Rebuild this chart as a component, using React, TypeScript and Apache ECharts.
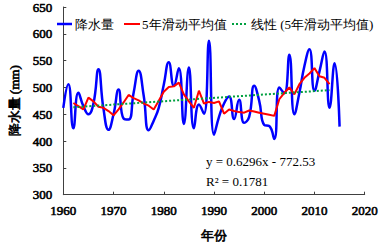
import React, { useEffect, useRef } from "react";
import * as echarts from "echarts";

const startYear = 1960;
const precipitation = [
  462, 506, 424, 490, 465, 450, 470, 534, 460, 421,
  450, 496, 442, 440, 490, 531, 485, 420, 438, 462,
  505, 547, 503, 536, 432, 537, 424, 468, 451, 587,
  412, 445, 470, 483, 441, 477, 434, 445, 503, 475,
  430, 428, 404, 500, 489, 561, 450, 490, 540, 571,
  494, 530, 567, 462, 545, 427,
];
const maStartYear = 1962;
const movingAvg = [
  471, 465, 459, 481, 474, 464, 462, 456, 448, 459,
  472, 486, 480, 476, 470, 466, 459, 475, 492, 501,
  502, 509, 487, 474, 462, 494, 470, 473, 471, 474,
  451, 459, 456, 454, 453, 457, 455, 453, 451, 449,
  447, 478, 490, 500, 487, 506, 518, 526, 536, 521,
  518, 506,
];
const trendYears = [1962, 2013];
const trendValues = [463, 495];
const legendNames = ["降水量", "5年滑动平均值", "线性 (5年滑动平均值)"];
const equationText = "y = 0.6296x - 772.53";
const r2Text = "R² = 0.1781";

const SERIF = "Liberation Serif";
const boldLike = {
  fontFamily: SERIF,
  fontSize: 13,
  fontWeight: "normal" as const,
  color: "#000",
  textBorderColor: "#000",
  textBorderWidth: 0.6,
};

export default function App() {
  const ref = useRef<HTMLDivElement>(null);
  useEffect(() => {
    document.body.style.margin = "0";
    const chart = echarts.init(ref.current!, null, { renderer: "svg" });
    const blue = precipitation.map((v, i) => [startYear + i, v]);
    const red = movingAvg.map((v, i) => [maStartYear + i, v]);
    const green = trendYears.map((y, i) => [y, trendValues[i]]);
    const legendY = 24;
    const legendItems = [
      { x0: 57, x1: 72, tx: 75, color: "#0000FF", width: 2.5, dash: null as any },
      { x0: 124, x1: 140, tx: 142, color: "#FF0000", width: 2, dash: null as any },
      { x0: 232, x1: 247, tx: 251, color: "#00A040", width: 2, dash: [2, 2] },
    ];
    const legendGraphics: any[] = [];
    legendItems.forEach((it, i) => {
      legendGraphics.push({
        type: "line",
        shape: { x1: it.x0, y1: legendY, x2: it.x1, y2: legendY },
        style: { stroke: it.color, lineWidth: it.width, lineDash: it.dash },
        z: 10,
      });
      legendGraphics.push({
        type: "text",
        x: it.tx,
        y: legendY,
        style: {
          text: legendNames[i],
          fontFamily: SERIF,
          fontSize: 13,
          fill: "#000",
          verticalAlign: "middle",
          align: "left",
        },
        z: 10,
      });
    });
    chart.setOption({
      animation: false,
      backgroundColor: "#ffffff",
      grid: { left: 51, right: 14, top: 7, bottom: 42, containLabel: false },
      xAxis: {
        type: "value",
        min: 1960,
        max: 2020,
        interval: 10,
        name: "年份",
        nameLocation: "middle",
        nameGap: 34,
        nameTextStyle: boldLike,
        axisLine: { lineStyle: { color: "#404040", width: 1 } },
        axisTick: { inside: true, length: 3, lineStyle: { color: "#404040" } },
        axisLabel: { ...boldLike, margin: 9, formatter: (v: number) => String(v) },
        splitLine: { show: false },
      },
      yAxis: {
        type: "value",
        min: 300,
        max: 650,
        interval: 50,
        name: "降水量 (mm)",
        nameLocation: "middle",
        nameGap: 41,
        nameRotate: 90,
        nameTextStyle: boldLike,
        axisLine: { show: true, lineStyle: { color: "#404040", width: 1 } },
        axisTick: { show: true, inside: true, length: 3, lineStyle: { color: "#404040" } },
        axisLabel: { ...boldLike, margin: 11, formatter: (v: number) => String(v) },
        splitLine: { show: false },
      },
      series: [
        {
          name: legendNames[0],
          type: "line",
          data: blue,
          smooth: 0.5,
          symbol: "none",
          lineStyle: { color: "#0000FF", width: 2.5 },
          itemStyle: { color: "#0000FF" },
          z: 2,
        },
        {
          name: legendNames[1],
          type: "line",
          data: red,
          smooth: false,
          symbol: "none",
          lineStyle: { color: "#FF0000", width: 2 },
          itemStyle: { color: "#FF0000" },
          z: 3,
        },
        {
          name: legendNames[2],
          type: "line",
          data: green,
          symbol: "none",
          lineStyle: { color: "#00A040", width: 2, type: [2, 2] },
          itemStyle: { color: "#00A040" },
          z: 4,
        },
      ],
      graphic: [
        ...legendGraphics,
        {
          type: "text",
          x: 206,
          y: 161,
          style: { text: equationText, fontFamily: SERIF, fontSize: 13, fill: "#000", verticalAlign: "middle" },
        },
        {
          type: "text",
          x: 206,
          y: 181,
          style: { text: r2Text, fontFamily: SERIF, fontSize: 13, fill: "#000", verticalAlign: "middle" },
        },
      ],
    });
    return () => chart.dispose();
  }, []);
  return <div ref={ref} style={{ width: 381, height: 247 }} />;
}
